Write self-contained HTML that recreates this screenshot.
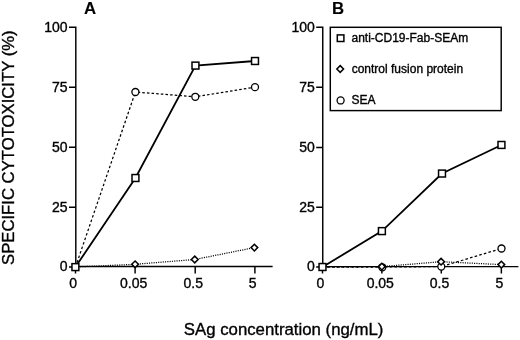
<!DOCTYPE html>
<html><head><meta charset="utf-8">
<style>
html,body{margin:0;padding:0;background:#fff;}
body{width:520px;height:340px;overflow:hidden;}
svg{display:block;will-change:transform;}
text{font-family:"Liberation Sans",sans-serif;fill:#000;stroke:#000;stroke-width:0.35px;}
</style></head><body>
<svg width="520" height="340" viewBox="0 0 520 340">
<defs>
  <rect id="sq" x="-3.45" y="-3.45" width="6.9" height="6.9" fill="#fff" stroke="#000" stroke-width="1.5"/>
  <path id="dm" d="M0,-3.35 L3.35,0 L0,3.35 L-3.35,0 Z" fill="#fff" stroke="#000" stroke-width="1.5"/>
  <rect id="sqL" x="-3.3" y="-3.3" width="6.6" height="6.6" fill="#fff" stroke="#000" stroke-width="1.5"/>
  <circle id="ci" r="3.5" fill="#fff" stroke="#000" stroke-width="1.3"/>
</defs>

<!-- Panel labels -->
<text x="84" y="13.7" font-size="16.8" font-weight="bold" style="stroke-width:0.1px">A</text>
<text x="332.1" y="13.5" font-size="16.8" font-weight="bold" style="stroke-width:0.1px">B</text>

<!-- Y title -->
<text transform="translate(13.65,147.7) rotate(-90) scale(1.05,1)" text-anchor="middle" font-size="15.9">SPECIFIC CYTOTOXICITY (%)</text>
<!-- X title -->
<text x="283.6" y="334.6" text-anchor="middle" font-size="16.8">SAg concentration (ng/mL)</text>

<!-- ===== Panel A ===== -->
<g stroke="#000" stroke-width="1.45" fill="none">
  <path d="M75.8,26.6 V267 M69,27.2 H75.8 M69,87.2 H75.8 M69,147.2 H75.8 M69,207.2 H75.8 M69,267 H75.8"/>
  <path d="M75.2,266.5 H272.6 M75.5,266.5 V273.5 M135.1,266.5 V273.5 M195.2,266.5 V273.5 M254.9,266.5 V273.5"/>
</g>
<g font-size="14" text-anchor="end">
  <text x="67.6" y="31.55">100</text>
  <text x="67.6" y="91.55">75</text>
  <text x="67.6" y="151.55">50</text>
  <text x="67.6" y="211.55">25</text>
  <text x="67.6" y="271.2">0</text>
</g>
<g font-size="14" text-anchor="middle">
  <text x="73.2" y="288.2">0</text>
  <text x="133.6" y="288.2">0.05</text>
  <text x="193.2" y="288.2">0.5</text>
  <text x="252.55" y="288.2">5</text>
</g>
<!-- control (dotted) -->
<polyline points="75.5,267 135.1,264.3 194.75,259.5 254.4,247.6" fill="none" stroke="#000" stroke-width="1.25" stroke-dasharray="1.1,1.2"/>
<!-- SEA (dashed) -->
<g fill="none" stroke="#000" stroke-width="1.25">
<line x1="75.5" y1="267" x2="135.4" y2="92" stroke-dasharray="2.55,2.2"/>
<polyline points="135.4,92 195.3,96.8 255,87.15" stroke-dasharray="2.55,2.1" stroke-dashoffset="2.4"/>
</g>
<!-- anti-CD19 (solid) -->
<polyline points="75.4,267.1 135.45,178 195.45,65.6 255,61" fill="none" stroke="#000" stroke-width="1.8"/>
<use href="#dm" x="135.1" y="264.3"/><use href="#dm" x="194.75" y="259.5"/><use href="#dm" x="254.4" y="247.6"/>
<use href="#ci" x="135.4" y="92"/><use href="#ci" x="195.3" y="96.8"/><use href="#ci" x="255" y="87.15"/>
<use href="#sq" x="75.4" y="267.1"/><use href="#sq" x="135.45" y="178"/><use href="#sq" x="195.45" y="65.6"/><use href="#sq" x="255" y="61"/>

<!-- ===== Panel B ===== -->
<g stroke="#000" stroke-width="1.45" fill="none">
  <path d="M322.75,26.6 V267 M316.2,27.3 H322.75 M316.2,87.3 H322.75 M316.2,147.4 H322.75 M316.2,207.3 H322.75 M316.2,267 H322.75"/>
  <path d="M322.2,266.6 H518.4 M322.5,266.6 V273.5 M381.85,266.6 V273.5 M441.3,266.6 V273.5 M501.35,266.6 V273.5"/>
  <rect x="330.3" y="27.3" width="170.9" height="83.3" stroke-width="1.45"/>
</g>
<g font-size="14" text-anchor="end">
  <text x="314.8" y="31.65">100</text>
  <text x="314.8" y="91.65">75</text>
  <text x="314.8" y="151.75">50</text>
  <text x="314.8" y="211.65">25</text>
  <text x="314.8" y="271.2">0</text>
</g>
<g font-size="14" text-anchor="middle">
  <text x="320.3" y="288.2">0</text>
  <text x="380.25" y="288.2">0.05</text>
  <text x="439.45" y="288.2">0.5</text>
  <text x="499.4" y="288.2">5</text>
</g>
<polyline points="322.5,267 381.85,266.6 441.05,261.7 501.35,264.6" fill="none" stroke="#000" stroke-width="1.25" stroke-dasharray="1.1,1.2"/>
<polyline points="322.5,267 381.85,267 441.3,266.6 501.5,248.5" fill="none" stroke="#000" stroke-width="1.25" stroke-dasharray="2.6,2.2"/>
<polyline points="322.5,267 381.9,231.1 442,173.55 501.45,144.95" fill="none" stroke="#000" stroke-width="1.8"/>
<use href="#ci" x="382.3" y="267.3"/><use href="#ci" x="441.3" y="266.6"/><use href="#ci" x="501.5" y="248.5"/>
<use href="#dm" x="381.85" y="266.6"/><use href="#dm" x="441.05" y="261.7"/><use href="#dm" x="501.35" y="264.6"/>
<use href="#sq" x="322.5" y="267"/><use href="#sq" x="381.9" y="231.1"/><use href="#sq" x="442" y="173.55"/><use href="#sq" x="501.45" y="144.95"/>

<!-- Legend -->
<use href="#sqL" x="340.6" y="38.2"/>
<use href="#dm" x="340.2" y="69"/>
<use href="#ci" x="340.6" y="100.45"/>
<g font-size="12">
  <text x="351.5" y="41.8">anti-CD19-Fab-SEAm</text>
  <text x="351.7" y="72.5">control fusion protein</text>
  <text x="351.5" y="103.9">SEA</text>
</g>
</svg>
</body></html>
